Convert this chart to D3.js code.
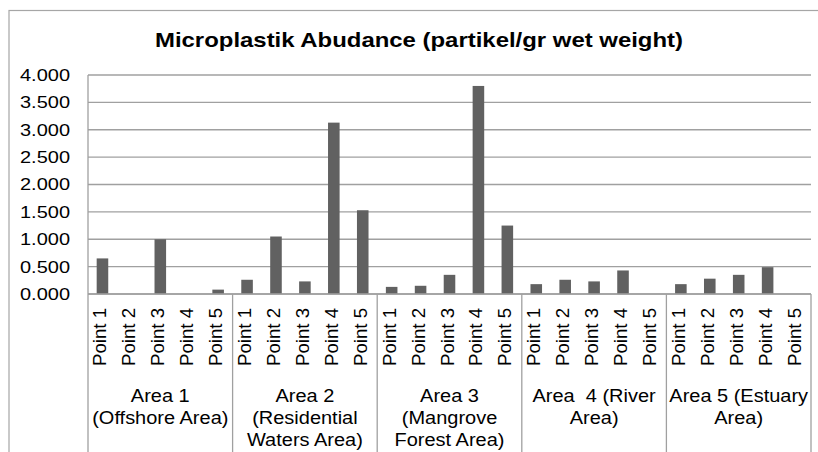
<!DOCTYPE html>
<html>
<head>
<meta charset="utf-8">
<script src="https://cdn.jsdelivr.net/npm/d3@7"></script>
<style>
  body { margin: 0; background: #fff; }
  svg { display: block; font-family: "Liberation Sans", Arial, sans-serif; }
</style>
</head>
<body>
<svg width="818" height="452"></svg>
<script>
var points = ["Point 1", "Point 2", "Point 3", "Point 4", "Point 5"];
var areaLabels = [
  ["Area 1", "(Offshore Area)"],
  ["Area 2", "(Residential", "Waters Area)"],
  ["Area 3", "(Mangrove", "Forest Area)"],
  ["Area  4 (River", "Area)"],
  ["Area 5 (Estuary", "Area)"]
];
var area1 = [0.65, 0, 1.0, 0, 0.08];
var area2 = [0.26, 1.05, 0.23, 3.13, 1.53];
var area3 = [0.13, 0.15, 0.35, 3.80, 1.25];
var area4 = [0.18, 0.26, 0.23, 0.43, 0];
var area5 = [0.18, 0.28, 0.35, 0.49, 0];
var yTicks = [0, 0.5, 1, 1.5, 2, 2.5, 3, 3.5, 4];

var allAreas = [area1, area2, area3, area4, area5];
var dataset = [];
allAreas.forEach(function (vals, a) {
  vals.forEach(function (v, p) {
    dataset.push({area: a, point: p, key: a + "-" + p, value: v});
  });
});

var margin = {left: 88, right: 7, top: 75, bottom: 158};
var width = 818, height = 452;
var baseY = height - margin.bottom;

var svg = d3.select("svg");

// outer chart frame
svg.append("rect")
  .attr("x", 9).attr("y", 10.5)
  .attr("width", 830).attr("height", 460)
  .attr("fill", "none").attr("stroke", "#a6a6a6").attr("stroke-width", 1.2);

var yScale = d3.scaleLinear().domain([0, 4]).range([baseY, margin.top]);
var xScale = d3.scaleBand().domain(dataset.map(function (d) { return d.key; }))
  .range([margin.left, width - margin.right]);
var areaScale = d3.scaleBand().domain(d3.range(allAreas.length))
  .range([margin.left, width - margin.right]);

// gridlines
svg.append("g").selectAll("line")
  .data(yTicks)
  .enter().append("line")
  .attr("x1", margin.left).attr("x2", width - margin.right)
  .attr("y1", function (d) { return yScale(d); })
  .attr("y2", function (d) { return yScale(d); })
  .attr("stroke", "#a0a0a0").attr("stroke-width", 1.3);

// y axis
var axisLeft = d3.axisLeft(yScale).tickValues(yTicks)
  .tickFormat(d3.format(".3f")).tickSize(0).tickPadding(18);
var gy = svg.append("g")
  .attr("transform", "translate(" + margin.left + ",0)")
  .call(axisLeft);
gy.select(".domain").remove();
gy.selectAll("text").attr("font-size", 17).attr("fill", "#000")
  .attr("font-family", "Liberation Sans, Arial, sans-serif")
  .attr("textLength", 50).attr("lengthAdjust", "spacingAndGlyphs");

// bars
var bw = xScale.bandwidth();
svg.append("g").selectAll("rect")
  .data(dataset)
  .enter().append("rect")
  .attr("x", function (d) { return xScale(d.key) + bw * 0.3; })
  .attr("width", bw * 0.4)
  .attr("y", function (d) { return yScale(d.value); })
  .attr("height", function (d) { return baseY - yScale(d.value); })
  .attr("fill", "#616161");

// separators between areas, running down through the labels
var seps = d3.range(allAreas.length + 1).map(function (i) {
  return i < allAreas.length ? areaScale(i) : areaScale(i - 1) + areaScale.bandwidth();
});
svg.append("g").selectAll("line")
  .data(seps)
  .enter().append("line")
  .attr("x1", function (d) { return d; }).attr("x2", function (d) { return d; })
  .attr("y1", function (d, i) { return i === 0 ? margin.top : baseY; })
  .attr("y2", height)
  .attr("stroke", "#a0a0a0").attr("stroke-width", 1.3);

// baseline
svg.append("line")
  .attr("x1", margin.left).attr("x2", width - margin.right)
  .attr("y1", baseY).attr("y2", baseY)
  .attr("stroke", "#a0a0a0").attr("stroke-width", 1.3);

// point labels (rotated)
svg.append("g").selectAll("text")
  .data(dataset)
  .enter().append("text")
  .attr("transform", function (d) {
    return "translate(" + (xScale(d.key) + bw / 2 + 4) + "," + (baseY + 14) + ") rotate(-90)";
  })
  .attr("text-anchor", "end")
  .attr("font-size", 18.5)
  .attr("textLength", 58).attr("lengthAdjust", "spacingAndGlyphs")
  .text(function (d) { return points[d.point]; });

// area labels
var ag = svg.append("g").selectAll("g")
  .data(areaLabels)
  .enter().append("g")
  .attr("transform", function (d, i) {
    return "translate(" + (areaScale(i) + areaScale.bandwidth() / 2) + ",0) scale(1.08,1)";
  });
ag.selectAll("text")
  .data(function (d) { return d; })
  .enter().append("text")
  .attr("x", 0)
  .attr("y", function (d, j) { return 402 + j * 22; })
  .attr("text-anchor", "middle")
  .attr("font-size", 18.5)
  .style("white-space", "pre")
  .text(function (d) { return d; });

// title
svg.append("text")
  .attr("x", 419).attr("y", 47)
  .attr("text-anchor", "middle")
  .attr("font-size", 21)
  .attr("font-weight", "bold")
  .attr("textLength", 528).attr("lengthAdjust", "spacingAndGlyphs")
  .text("Microplastik Abudance (partikel/gr wet weight)");
</script>
</body>
</html>
